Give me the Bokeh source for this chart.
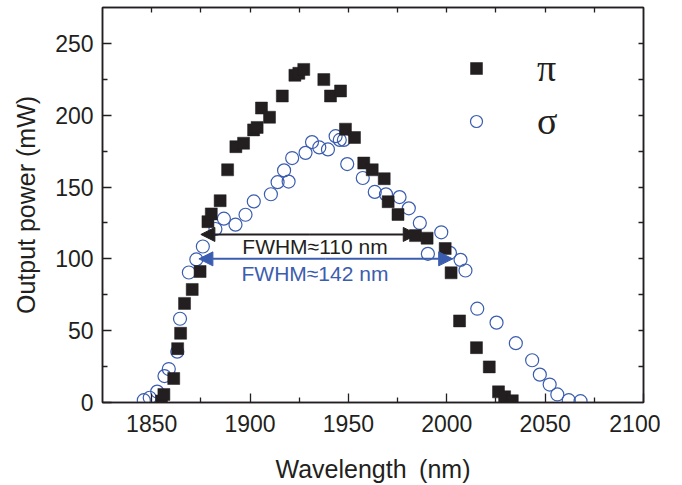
from bokeh.plotting import figure
from bokeh.models import (FixedTicker, LinearAxis, Legend, LegendItem, Arrow,
                          NormalHead, Label, ColumnDataSource, CustomLabelingPolicy)
from bokeh.embed import file_html
from bokeh.resources import INLINE

# ---- data ----
pi_wavelength = [1855.0, 1856.2, 1861.2, 1863.2, 1864.7, 1866.7, 1870.6, 1874.6,
                 1878.6, 1880.3, 1884.8, 1888.6, 1892.8, 1896.7, 1901.8, 1903.6,
                 1905.8, 1909.9, 1916.4, 1922.8, 1924.8, 1927.3, 1937.5, 1940.9,
                 1946.0, 1948.5, 1953.1, 1957.8, 1962.1, 1968.2, 1970.2, 1975.2,
                 1984.1, 1990.0, 1999.2, 2002.2, 2006.5, 2015.1, 2021.6, 2026.3,
                 2029.4, 2033.3]
pi_power = [1.0, 5.6, 16.7, 37.5, 48.2, 69.0, 78.7, 91.2,
            125.9, 131.3, 140.5, 162.0, 178.1, 180.5, 189.8, 191.5,
            205.0, 198.6, 213.4, 227.8, 229.2, 231.9, 224.8, 213.4,
            216.9, 190.3, 184.5, 166.7, 162.0, 155.8, 139.8, 130.9,
            116.2, 114.4, 107.2, 90.3, 56.8, 38.2, 24.8, 7.4,
            4.0, 1.2]

sigma_wavelength = [1846.0, 1849.0, 1852.8, 1856.5, 1858.7, 1863.0, 1864.4, 1868.9,
                    1872.7, 1876.0, 1882.4, 1886.7, 1892.6, 1897.7, 1901.9, 1910.6,
                    1914.0, 1917.3, 1919.6, 1921.4, 1928.2, 1931.5, 1935.2, 1939.6,
                    1943.5, 1945.6, 1947.7, 1949.4, 1957.3, 1963.4, 1969.1, 1976.0,
                    1980.7, 1986.3, 1990.4, 1997.2, 2001.6, 2007.0, 2009.5, 2015.5,
                    2025.3, 2035.1, 2043.4, 2047.3, 2052.3, 2056.2, 2062.0, 2068.0]
sigma_power = [1.6, 3.3, 7.6, 18.4, 23.3, 35.4, 58.3, 90.5,
               99.6, 108.6, 120.8, 128.0, 123.8, 130.7, 140.0, 145.0,
               153.4, 161.6, 153.8, 170.2, 173.8, 181.3, 177.6, 176.2,
               185.4, 182.8, 182.8, 166.0, 156.3, 146.6, 144.9, 143.0,
               135.2, 125.0, 103.5, 118.5, 104.2, 99.3, 91.9, 65.3,
               55.6, 41.3, 29.4, 19.4, 12.5, 5.6, 1.6, 0.9]

x_ticks = [1850, 1900, 1950, 2000, 2050, 2100]
x_minor = [1875, 1925, 1975, 2025, 2075]
y_ticks = [0, 50, 100, 150, 200, 250]
y_minor = [25, 75, 125, 175, 225]
top_ticks = [1850, 1875, 1900, 1925, 1950, 1975, 2000, 2025, 2050, 2075]
right_ticks = [25, 50, 75, 100, 125, 150, 175, 200, 225, 250]

# FWHM annotations: (start, end, level) in data units
fwhm_pi = (1875.0, 1985.0, 117.0)
fwhm_sigma = (1874.0, 2003.0, 100.0)
fwhm_pi_text = "FWHM\u2248110 nm"
fwhm_sigma_text = "FWHM\u2248142 nm"
fwhm_text_center = 1933.0
fwhm_pi_text_level = 108.3
fwhm_sigma_text_level = 89.6

BLACK = "#231f20"
BLUE = "#3b5db0"
FONT = "Liberation Sans"

p = figure(width=660, height=485, x_range=(1825, 2100), y_range=(0, 275),
           output_backend="svg", toolbar_location=None,
           min_border_left=102, min_border_right=17, min_border_top=7,
           min_border_bottom=81)
p.grid.visible = False
p.outline_line_color = BLACK
p.outline_line_width = 1.5
p.background_fill_color = "white"

src_pi = ColumnDataSource(dict(x=pi_wavelength, y=pi_power))
src_sig = ColumnDataSource(dict(x=sigma_wavelength, y=sigma_power))
r_sig = p.scatter("x", "y", source=src_sig, marker="circle", size=13,
                  fill_color="white", fill_alpha=0.0, line_color=BLUE, line_width=1.2)
r_pi = p.scatter("x", "y", source=src_pi, marker="square", size=12,
                 fill_color=BLACK, line_color=BLACK, line_width=0.5)

# axes
for ax in (p.xaxis[0], p.yaxis[0]):
    ax.axis_line_color = BLACK
    ax.axis_line_width = 1.5
    ax.major_tick_line_color = BLACK
    ax.minor_tick_line_color = BLACK
    ax.major_tick_line_width = 1.3
    ax.minor_tick_line_width = 1.3
    ax.major_tick_in = 9
    ax.major_tick_out = 0
    ax.minor_tick_in = 5
    ax.minor_tick_out = 0
    ax.major_label_text_font = FONT
    ax.major_label_text_font_size = "23px"
    ax.major_label_text_color = BLACK
    ax.axis_label_text_font = FONT
    ax.axis_label_text_font_size = "25px"
    ax.axis_label_text_font_style = "normal"
    ax.axis_label_text_color = BLACK

p.xaxis[0].ticker = FixedTicker(ticks=x_ticks, minor_ticks=x_minor)
p.yaxis[0].ticker = FixedTicker(ticks=y_ticks, minor_ticks=y_minor)
p.xaxis[0].axis_label = "Wavelength\u2002(nm)"
p.yaxis[0].axis_label = "Output power (mW)"
p.xaxis[0].major_label_standoff = 12
p.yaxis[0].major_label_standoff = 9
p.xaxis[0].axis_label_standoff = 20
p.yaxis[0].axis_label_standoff = 12

no_labels = CustomLabelingPolicy(code="""
for (const i of Array.from(indices)) indices.unset(i)
return indices
""")
top_ax = LinearAxis(ticker=FixedTicker(ticks=top_ticks))
right_ax = LinearAxis(ticker=FixedTicker(ticks=right_ticks))
for ax in (top_ax, right_ax):
    ax.axis_line_color = BLACK
    ax.axis_line_width = 1.5
    ax.major_tick_line_color = BLACK
    ax.major_tick_line_width = 1.3
    ax.major_tick_in = 5
    ax.major_tick_out = 0
    ax.minor_tick_line_color = None
    ax.major_label_policy = no_labels
    ax.major_label_standoff = 0
    ax.major_label_text_font_size = "1px"
p.add_layout(top_ax, "above")
p.add_layout(right_ax, "right")

# FWHM arrows
for (x0, x1, yv), col in ((fwhm_pi, BLACK), (fwhm_sigma, BLUE)):
    mid = (x0 + x1) / 2
    p.add_layout(Arrow(x_start=mid, x_end=x0, y_start=yv, y_end=yv,
                       line_color=col, line_width=2,
                       end=NormalHead(size=14, fill_color=col, line_color=col)))
    p.add_layout(Arrow(x_start=mid, x_end=x1, y_start=yv, y_end=yv,
                       line_color=col, line_width=2,
                       end=NormalHead(size=14, fill_color=col, line_color=col)))

p.add_layout(Label(x=fwhm_text_center, y=fwhm_pi_text_level, text=fwhm_pi_text,
                   text_font=FONT, text_font_size="21px", text_color=BLACK,
                   text_align="center", text_baseline="middle"))
p.add_layout(Label(x=fwhm_text_center, y=fwhm_sigma_text_level, text=fwhm_sigma_text,
                   text_font=FONT, text_font_size="21px", text_color=BLUE,
                   text_align="center", text_baseline="middle"))

legend = Legend(items=[LegendItem(label="\u03c0", renderers=[r_pi]),
                       LegendItem(label="\u03c3", renderers=[r_sig])],
                location=(359, 259), orientation="vertical",
                glyph_width=30, glyph_height=30, label_standoff=46, spacing=9,
                label_text_font="Liberation Serif", label_text_font_size="38px",
                label_text_color=BLACK, border_line_color=None,
                background_fill_alpha=0.0, padding=0, margin=0)
p.add_layout(legend)

open("out.html", "w").write(file_html(p, INLINE))
